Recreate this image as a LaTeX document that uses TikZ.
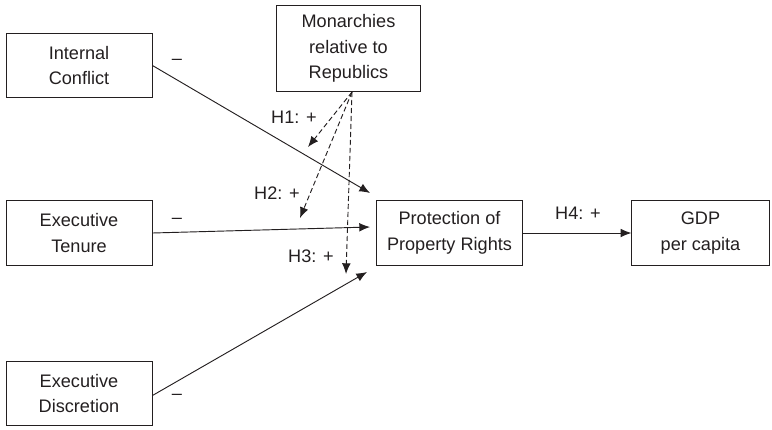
\documentclass[tikz,border=0pt]{standalone}
\usepackage{fontspec}
\setmainfont{Liberation Sans}
\usetikzlibrary{arrows.meta}
\definecolor{ink}{HTML}{231F20}

\begin{document}
\begin{tikzpicture}[x=0.75pt,y=-0.75pt,
  every node/.style={text=ink,font=\fontsize{13.6}{19.2}\selectfont},
  varbox/.style={draw=ink,line width=0.7pt,minimum width=109.5pt,minimum height=48.5pt,align=center,inner sep=0pt},
  effect/.style={draw=ink,line width=0.7pt,-{Latex[length=8pt,width=6.5pt]}},
  moderate/.style={effect,dash pattern=on 3.8pt off 2.2pt}]
\useasboundingbox (0,0) rectangle (772,429);

\node[varbox] (conflict) at (79,65.5) {Internal\\Conflict};
\node[varbox] (tenure) at (79,233) {Executive\\Tenure};
\node[varbox] (discretion) at (79,393.5) {Executive\\Discretion};
\node[varbox,minimum width=108pt,minimum height=65pt] (monarchy) at (348.5,48.5) {Monarchies\\relative to\\Republics};
\node[varbox,minimum width=110pt] (property) at (449.5,233) {Protection of\\Property Rights};
\node[varbox,minimum width=103pt] (gdp) at (700.5,233) {GDP\\per capita};

% arrow ends in front of the property box
\coordinate (pc) at (370,193);
\coordinate (pt) at (370,227);
\coordinate (pd) at (367,272);
\coordinate (mo) at (352,92);
\coordinate (h1) at (308,147);
\coordinate (h2) at (300,218);
\coordinate (h3) at (346,274);

\draw[effect] (conflict.east) -- (pc);
\draw[effect] (tenure.east) -- (pt);
\draw[effect] ([yshift=-1.5pt]discretion.east) -- (pd);
\draw[effect] (property.east) -- (gdp.west);

\draw[moderate] (mo) -- (h1);
\draw[moderate] (mo) -- (h2);
\draw[moderate] (mo) -- (h3);

\node (m1) at (177,62) {--};
\node (m2) at (177,221) {--};
\node (m3) at (177,397) {--};
\node (l1) at (294,117) {H1: +};
\node (l2) at (277,193) {H2: +};
\node (l3) at (311,256) {H3: +};
\node (l4) at (578,213) {H4: +};
\end{tikzpicture}
\end{document}
